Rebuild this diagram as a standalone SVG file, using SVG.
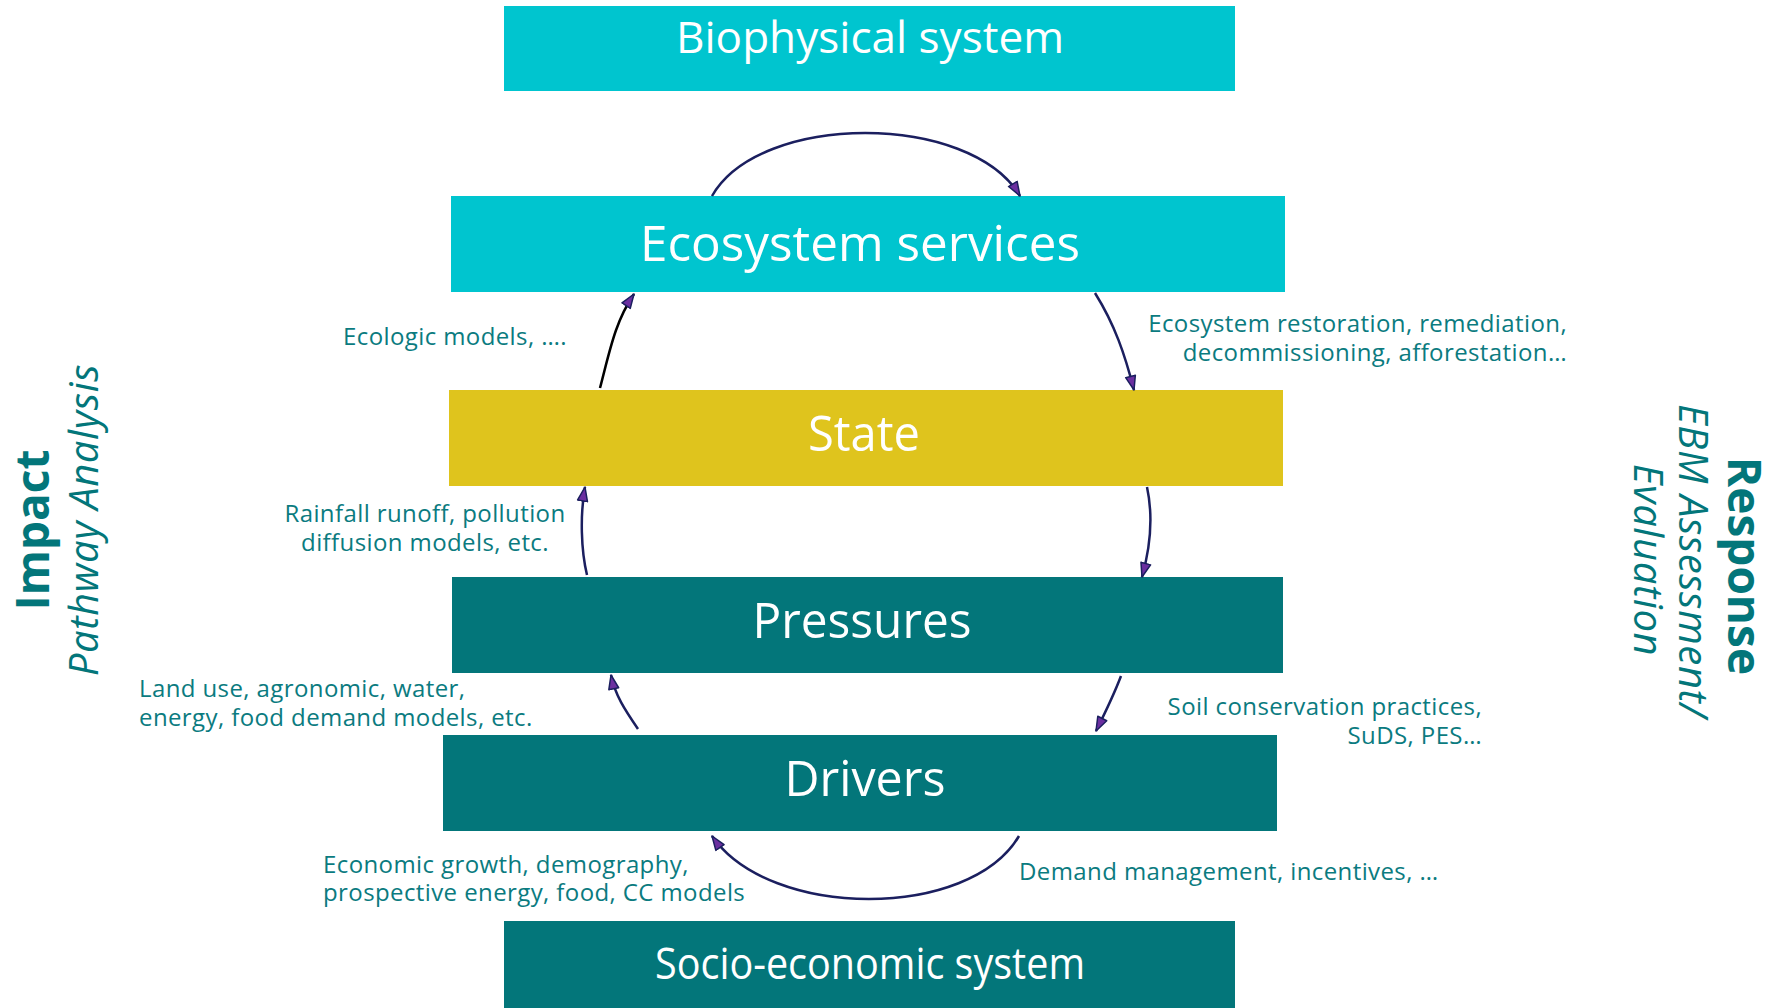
<svg xmlns="http://www.w3.org/2000/svg" width="1777" height="1008" viewBox="0 0 1777 1008">
<style>
.cyan{fill:#00C5CF}
.yellow{fill:#DFC41D}
.teal{fill:#03767A}
.title{fill:#FFFFFF;font-family:"Open Sans","DejaVu Sans",sans-serif;text-anchor:middle}
.lbl{fill:#0B7B7F;font-family:"Open Sans","DejaVu Sans",sans-serif;font-size:24px;letter-spacing:0.4px}
.side{fill:#03767A;font-family:"Open Sans","DejaVu Sans",sans-serif;text-anchor:middle}
.b{font-weight:bold;font-size:46px}
.i{font-style:italic;font-size:40px;letter-spacing:0.6px}
.con{fill:none;stroke:#1B1F5F;stroke-width:2.5}
</style>
<defs>
<marker id="ah" markerUnits="userSpaceOnUse" markerWidth="18" markerHeight="14" refX="15" refY="6" orient="auto" viewBox="0 0 18 12">
<path d="M1,1 L15,6 L1,11 Z" fill="#6B2FA0" stroke="#1B1F5F" stroke-width="1.5" stroke-linejoin="round"/>
</marker>
</defs>
<g id="biophysical">
<rect class="cyan" x="504" y="6" width="731" height="85"/>
<text class="title" x="870" y="53" font-size="44" textLength="388" lengthAdjust="spacingAndGlyphs">Biophysical system</text>
</g>
<g id="ecosystem-services">
<rect class="cyan" x="451" y="196" width="834" height="96"/>
<text class="title" x="860" y="261" font-size="50" textLength="440" lengthAdjust="spacingAndGlyphs">Ecosystem services</text>
</g>
<g id="state">
<rect class="yellow" x="449" y="390" width="834" height="96"/>
<text class="title" x="864" y="451" font-size="50" textLength="112" lengthAdjust="spacingAndGlyphs">State</text>
</g>
<g id="pressures">
<rect class="teal" x="452" y="577" width="831" height="96"/>
<text class="title" x="862" y="638" font-size="50" textLength="219" lengthAdjust="spacingAndGlyphs">Pressures</text>
</g>
<g id="drivers">
<rect class="teal" x="443" y="735" width="834" height="96"/>
<text class="title" x="865" y="796" font-size="50" textLength="161" lengthAdjust="spacingAndGlyphs">Drivers</text>
</g>
<g id="socio-economic">
<rect class="teal" x="504" y="921" width="731" height="87"/>
<text class="title" x="870" y="979" font-size="44" textLength="430" lengthAdjust="spacingAndGlyphs">Socio-economic system</text>
</g>
<g id="connectors">
<path class="con" d="M712,196 C760,112 970,112 1020,196" marker-end="url(#ah)"/>
<path class="con" d="M600,388 C610,350 615,322 634,294" style="stroke:#000" marker-end="url(#ah)"/>
<path class="con" d="M1095,293 C1115,325 1125,355 1134,390" marker-end="url(#ah)"/>
<path class="con" d="M1147,487 C1153,515 1151,545 1142,577" marker-end="url(#ah)"/>
<path class="con" d="M587,575 C581,550 580,515 585,487" marker-end="url(#ah)"/>
<path class="con" d="M638,729 C625,710 615,695 611,675" marker-end="url(#ah)"/>
<path class="con" d="M1121,676 C1113,697 1105,713 1096,731" marker-end="url(#ah)"/>
<path class="con" d="M1019,836 C970,920 770,920 712,836" marker-end="url(#ah)"/>
</g>
<g id="labels">
<text class="lbl" x="343" y="345">Ecologic models, ….</text>
<text class="lbl" text-anchor="end"><tspan x="1567" y="332">Ecosystem restoration, remediation,</tspan><tspan x="1567" y="361">decommissioning, afforestation…</tspan></text>
<text class="lbl" text-anchor="middle"><tspan x="425" y="522">Rainfall runoff, pollution</tspan><tspan x="425" y="551">diffusion models, etc.</tspan></text>
<text class="lbl"><tspan x="139" y="697">Land use, agronomic, water,</tspan><tspan x="139" y="726">energy, food demand models, etc.</tspan></text>
<text class="lbl" text-anchor="end"><tspan x="1482" y="715">Soil conservation practices,</tspan><tspan x="1482" y="744">SuDS, PES…</tspan></text>
<text class="lbl"><tspan x="323" y="873">Economic growth, demography,</tspan><tspan x="323" y="901">prospective energy, food, CC models</tspan></text>
<text class="lbl" x="1019" y="880">Demand management, incentives, …</text>
</g>
<g id="side-labels">
<text class="side b" transform="translate(49,530) rotate(-90)">Impact</text>
<text class="side i" transform="translate(98,520) rotate(-90)">Pathway Analysis</text>
<text class="side b" transform="translate(1728,566) rotate(90)">Response</text>
<text class="side i" transform="translate(1679,561) rotate(90)">EBM Assessment/</text>
<text class="side i" transform="translate(1634,560) rotate(90)">Evaluation</text>
</g>
</svg>
